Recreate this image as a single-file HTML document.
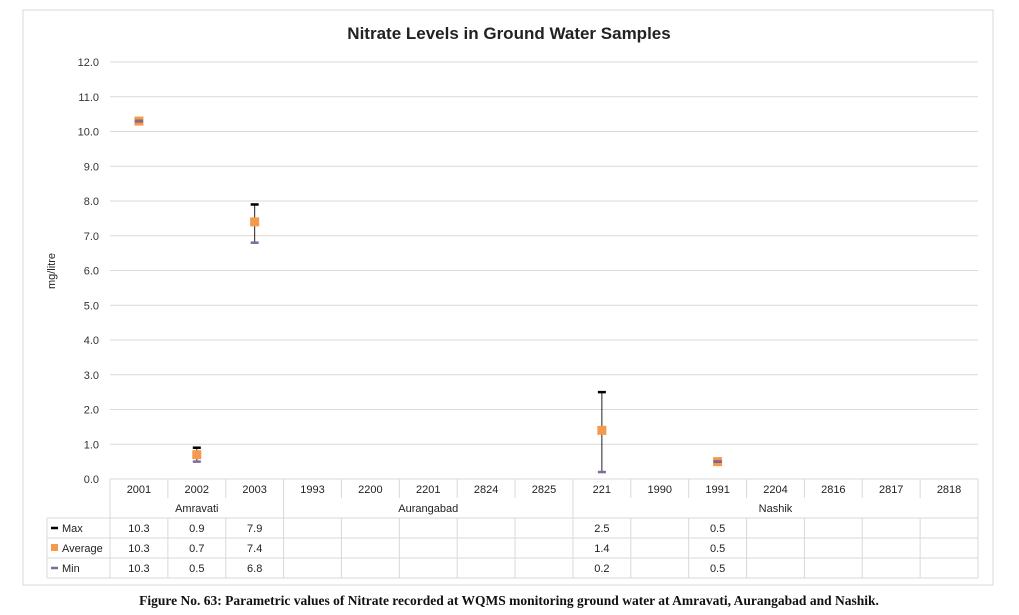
<!DOCTYPE html>
<html><head><meta charset="utf-8"><style>
body{margin:0;background:#fff;width:1019px;height:615px;overflow:hidden}
svg{display:block}
</style></head><body>
<svg id="c" width="1019" height="615" xmlns="http://www.w3.org/2000/svg" font-family="Liberation Sans, sans-serif">
<rect x="23" y="10" width="970" height="575" fill="#fff" stroke="#d9d9d9"/>
<text x="509" y="39" text-anchor="middle" font-size="17" font-weight="bold" fill="#222">Nitrate Levels in Ground Water Samples</text>
<text transform="translate(55,271) rotate(-90)" text-anchor="middle" font-size="11" fill="#222">mg/litre</text>
<g id="grid"></g><g id="marks"></g><g id="table"></g>
<text x="509" y="605" text-anchor="middle" font-family="Liberation Serif, serif" font-size="13.5" font-weight="bold" fill="#111">Figure No. 63: Parametric values of Nitrate recorded at WQMS monitoring ground water at Amravati, Aurangabad and Nashik.</text>
</svg>
<script>
const categories=["2001","2002","2003","1993","2200","2201","2824","2825","221","1990","1991","2204","2816","2817","2818"];
const groups=["Amravati","Aurangabad","Nashik"];
const groupSizes=[3,5,7];
const maxVals=[10.3,0.9,7.9,null,null,null,null,null,2.5,null,0.5,null,null,null,null];
const avgVals=[10.3,0.7,7.4,null,null,null,null,null,1.4,null,0.5,null,null,null,null];
const minVals=[10.3,0.5,6.8,null,null,null,null,null,0.2,null,0.5,null,null,null,null];
const yTicks=[0,1,2,3,4,5,6,7,8,9,10,11,12];
const NS="http://www.w3.org/2000/svg";
const X0=110,X1=978,Y0=479,Y1=62,YMAX=12;
const bw=(X1-X0)/categories.length;
const xc=i=>X0+bw*(i+0.5);
const y=v=>Y0-(v/YMAX)*(Y0-Y1);
function mk(tag,attrs,parent,txt){const e=document.createElementNS(NS,tag);for(const k in attrs)e.setAttribute(k,attrs[k]);if(txt!=null)e.textContent=txt;parent.appendChild(e);return e;}
const grid=document.getElementById('grid'),marks=document.getElementById('marks'),tb=document.getElementById('table');
yTicks.forEach(t=>{
 const l=mk('line',{x1:X0,x2:X1,y1:y(t),y2:y(t),stroke:'#d9d9d9'},grid);
 
 
 const tx=mk('text',{x:99,y:y(t)+4,'text-anchor':'end','font-size':11,fill:'#333'},grid,t.toFixed(1));
 
 
});
categories.forEach((c,i)=>{
 if(maxVals[i]==null)return;
 const x=xc(i);
 const g=mk('g',{},marks);
 
 
 mk('line',{x1:x,x2:x,y1:y(maxVals[i]),y2:y(minVals[i]),stroke:'#222','stroke-width':1},g);
 mk('rect',{x:x-4.5,y:y(avgVals[i])-4.5,width:9,height:9,fill:'#f59a4c'},g);
 mk('line',{x1:x-4,x2:x+4,y1:y(maxVals[i]),y2:y(maxVals[i]),stroke:'#000','stroke-width':2.5},g);
 mk('line',{x1:x-4,x2:x+4,y1:y(minVals[i]),y2:y(minVals[i]),stroke:'#7f6a9c','stroke-width':2.5},g);
});
// table
const LX=47,R=[479,500,518,538,558,578];
const st={stroke:'#d9d9d9','stroke-width':1};
mk('line',Object.assign({x1:X0,x2:X1,y1:R[0],y2:R[0]},st),tb);
for(let k=2;k<6;k++)mk('line',Object.assign({x1:LX,x2:X1,y1:R[k],y2:R[k]},st),tb);
mk('line',Object.assign({x1:LX,x2:LX,y1:R[2],y2:R[5]},st),tb);
mk('line',Object.assign({x1:X0,x2:X0,y1:R[0],y2:R[5]},st),tb);
let idx=0;
groups.forEach((gname,gi)=>{
 const start=idx,end=idx+groupSizes[gi];
 const gx=X0+bw*end;
 mk('line',Object.assign({x1:gx,x2:gx,y1:R[0],y2:R[5]},st),tb);
 for(let j=start+1;j<end;j++){const xx=X0+bw*j;
  mk('line',Object.assign({x1:xx,x2:xx,y1:R[0],y2:R[0]+19},st),tb);
  mk('line',Object.assign({x1:xx,x2:xx,y1:R[2],y2:R[5]},st),tb);}
 const t=mk('text',{x:(X0+bw*start+gx)/2,y:512,'text-anchor':'middle','font-size':11,fill:'#222'},tb,gname);
 
 
 idx=end;
});
categories.forEach((c,i)=>{
 const t=mk('text',{x:xc(i),y:493,'text-anchor':'middle','font-size':11,fill:'#222'},tb,c);
 
 
 [[maxVals,532],[avgVals,552],[minVals,572]].forEach(([arr,yy])=>{
  if(arr[i]==null)return;
  const v=mk('text',{x:xc(i),y:yy,'text-anchor':'middle','font-size':11,fill:'#222'},tb,arr[i].toFixed(1));
  
  
 });
});
const legend=[["Max",532,'line','#000'],["Average",552,'rect','#f59a4c'],["Min",572,'line','#7f6a9c']];
legend.forEach(([n,yy,kind,col])=>{
 const g=mk('g',{},tb);
 
 
 if(kind==='line')mk('line',{x1:51,x2:58,y1:yy-4,y2:yy-4,stroke:col,'stroke-width':2.5},g);
 else mk('rect',{x:51,y:yy-8,width:7,height:7,fill:col},g);
 mk('text',{x:62,y:yy,'font-size':11,fill:'#222'},g,n);
});
</script>
</body></html>
